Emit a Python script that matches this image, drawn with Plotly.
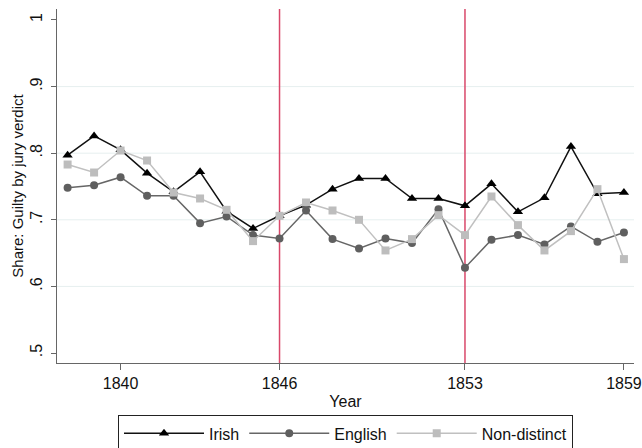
import plotly.graph_objects as go

years = list(range(1838, 1860))
irish = [0.797, 0.826, 0.805, 0.770, 0.742, 0.772, 0.713, 0.687, 0.706, 0.722, 0.746,
         0.762, 0.762, 0.732, 0.732, 0.721, 0.754, 0.712, 0.733, 0.810, 0.739, 0.741]
english = [0.748, 0.752, 0.764, 0.736, 0.736, 0.695, 0.705, 0.677, 0.672, 0.714, 0.671,
           0.657, 0.672, 0.665, 0.716, 0.628, 0.670, 0.677, 0.663, 0.690, 0.667, 0.681]
nondistinct = [0.783, 0.771, 0.804, 0.789, 0.741, 0.732, 0.715, 0.668, 0.706, 0.726, 0.714,
               0.700, 0.654, 0.671, 0.707, 0.677, 0.735, 0.692, 0.654, 0.683, 0.746, 0.641]
event_years = [1846, 1853]
x_ticks = [1840, 1846, 1853, 1859]
y_ticks = [0.5, 0.6, 0.7, 0.8, 0.9, 1.0]
y_ticktext = [".5", ".6", ".7", ".8", ".9", "1"]
grid_vals = [0.6, 0.7, 0.8, 0.9]

fig = go.Figure()
fig.add_trace(go.Scatter(x=years, y=irish, name="Irish", mode="lines+markers",
                         line=dict(color="#111111", width=1.5),
                         marker=dict(symbol="triangle-up", size=9, color="#000000")))
fig.add_trace(go.Scatter(x=years, y=english, name="English", mode="lines+markers",
                         line=dict(color="#666666", width=1.5),
                         marker=dict(symbol="circle", size=8, color="#5f5f5f")))
fig.add_trace(go.Scatter(x=years, y=nondistinct, name="Non-distinct", mode="lines+markers",
                         line=dict(color="#c0c0c0", width=1.5),
                         marker=dict(symbol="square", size=8, color="#bdbdbd")))

shapes = []
for g in grid_vals:
    shapes.append(dict(type="line", xref="paper", x0=0, x1=1, yref="y", y0=g, y1=g,
                       line=dict(color="#e6efef", width=1), layer="below"))
for ey in event_years:
    shapes.append(dict(type="line", xref="x", x0=ey, x1=ey, yref="paper", y0=0, y1=1,
                       line=dict(color="#d9486a", width=1.5), layer="below"))

fig.update_layout(
    width=642, height=448,
    margin=dict(l=57, r=8, t=9, b=85, autoexpand=False),
    plot_bgcolor="white", paper_bgcolor="white",
    font=dict(family="Liberation Sans, Arial, sans-serif", size=16, color="#111111"),
    shapes=shapes,
    showlegend=True,
    legend=dict(orientation="h", x=0.5, xanchor="center", y=-0.148, yanchor="top",
                bordercolor="#222222", borderwidth=1, font=dict(size=16),
                itemwidth=80, tracegroupgap=0),
    xaxis=dict(range=[1837.6, 1859.38], tickvals=x_ticks, showgrid=False, zeroline=False,
               showline=True, linecolor="#666666", linewidth=1, automargin=False,
               ticks="outside", ticklen=6, tickcolor="#666666", tickfont=dict(size=16),
               title=dict(text="Year", standoff=4, font=dict(size=16))),
    yaxis=dict(range=[0.485, 1.0165], tickvals=y_ticks, ticktext=y_ticktext, tickangle=-90,
               showgrid=False, zeroline=False, automargin=False,
               showline=True, linecolor="#666666", linewidth=1,
               ticks="outside", ticklen=5, tickcolor="#666666", tickfont=dict(size=16),
               ticklabelstandoff=3,
               title=dict(text="Share: Guilty by jury verdict", standoff=0, font=dict(size=15))),
)

fig.write_html("out.html", config={"displayModeBar": False},
               post_script="document.body.style.margin='0';document.body.style.overflow='hidden';")
